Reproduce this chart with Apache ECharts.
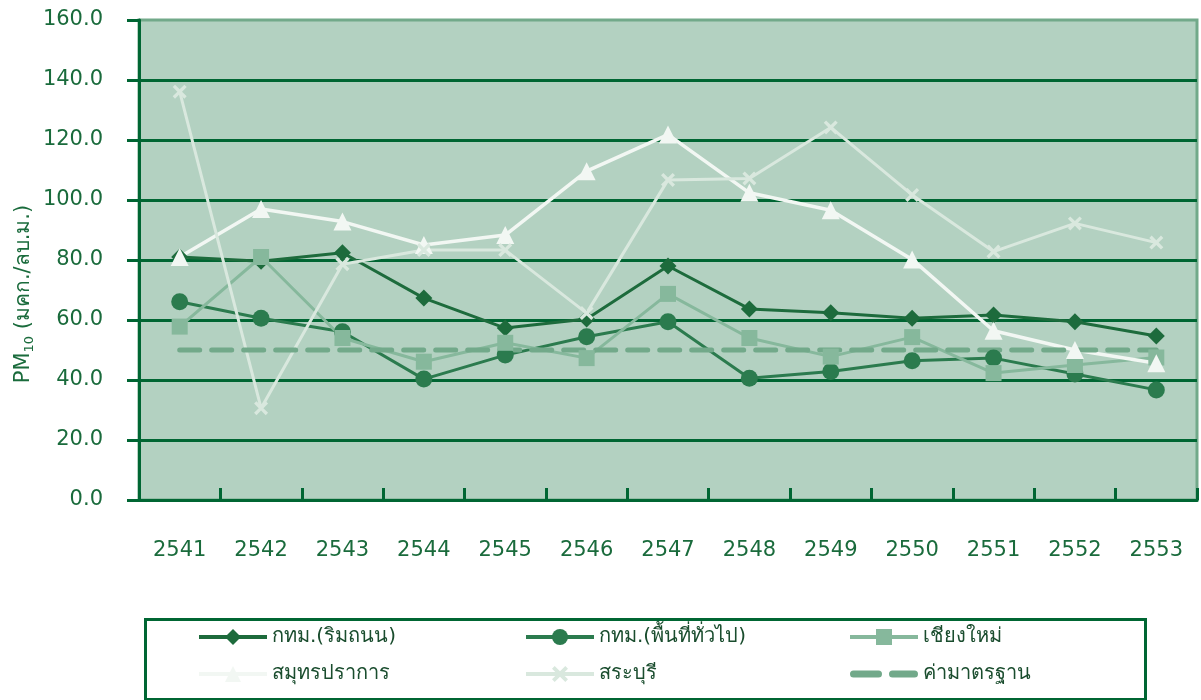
<!DOCTYPE html>
<html>
<head>
<meta charset="utf-8">
<script src="https://cdn.jsdelivr.net/npm/echarts@6/dist/echarts.min.js"></script>
<style>
  html, body { margin: 0; padding: 0; background: #fff; }
  #chart { width: 1201px; height: 700px; }
</style>
</head>
<body>
<div id="chart"></div>
<script>
var years = ['2541', '2542', '2543', '2544', '2545', '2546', '2547', '2548', '2549', '2550', '2551', '2552', '2553'];
var bkkRoad = [81.0, 79.6, 82.4, 67.3, 57.3, 60.3, 78.0, 63.7, 62.4, 60.6, 61.7, 59.4, 54.7];
var bkkGeneral = [66.1, 60.6, 56.1, 40.3, 48.3, 54.4, 59.4, 40.6, 42.8, 46.4, 47.3, 42.0, 36.7];
var chiangMai = [57.8, 81.0, 54.0, 46.1, 52.4, 47.3, 68.7, 54.0, 47.8, 54.3, 42.3, 45.0, 47.5];
var samutPrakan = [81.0, 97.0, 92.8, 85.0, 88.3, 109.6, 121.8, 102.4, 96.6, 80.2, 56.4, 50.0, 45.6];
var saraburi = [136.1, 30.6, 78.6, 83.3, 83.3, 62.3, 106.7, 107.2, 124.2, 101.7, 82.8, 92.2, 85.8];
var standard = [50, 50, 50, 50, 50, 50, 50, 50, 50, 50, 50, 50, 50];

var names = ['กทม.(ริมถนน)', 'กทม.(พื้นที่ทั่วไป)', 'เชียงใหม่', 'สมุทรปราการ', 'สระบุรี', 'ค่ามาตรฐาน'];

var dark = '#006633';
var textColor = '#1a6b3c';
var font = '"DejaVu Sans", sans-serif';
var xPath = 'path://M0,2 L2,0 L6,4 L10,0 L12,2 L8,6 L12,10 L10,12 L6,8 L2,12 L0,10 L4,6 Z';
// two rounded dashes inside a 68x20 box, with tiny corner specks to fix the box size
var dashIcon = 'path://M0,0 L0.05,0 L0,0.05 Z M68,20 L67.95,20 L68,19.95 Z ' +
  'M3.5,6.5 L28.5,6.5 A3.5,3.5 0 0 1 28.5,13.5 L3.5,13.5 A3.5,3.5 0 0 1 3.5,6.5 Z ' +
  'M42.5,6.5 L64.5,6.5 A3.5,3.5 0 0 1 64.5,13.5 L42.5,13.5 A3.5,3.5 0 0 1 42.5,6.5 Z';

function lineSeries(name, data, color, symbol, size, width) {
  return {
    name: name, type: 'line', data: data,
    symbol: symbol, symbolSize: size,
    lineStyle: { color: color, width: width },
    itemStyle: { color: color },
    emphasis: { disabled: true }
  };
}

var legendBase = {
  orient: 'vertical', itemWidth: 68, itemHeight: 20, itemGap: 17, padding: 0,
  lineStyle: { width: 4 },
  textStyle: { color: '#1a4d2e', fontSize: 20, fontFamily: font }
};

var chart = echarts.init(document.getElementById('chart'));
chart.setOption({
  animation: false,
  grid: {
    left: 139, right: 4, top: 20, bottom: 200, outerBoundsMode: 'none',
    show: true, backgroundColor: '#b3d1c1', borderColor: '#72a98a', borderWidth: 3
  },
  legend: [
    Object.assign({ data: [names[0], names[3]], left: 197, top: 627 }, legendBase),
    Object.assign({ data: [names[1], names[4]], left: 524, top: 627 }, legendBase),
    Object.assign({
      data: [names[2], { name: names[5], icon: dashIcon }],
      left: 848, top: 627
    }, legendBase)
  ],
  graphic: [{
    type: 'rect', left: 143, top: 617,
    shape: { width: 1000, height: 80 },
    style: { fill: 'none', stroke: dark, lineWidth: 3 },
    silent: true
  }, {
    type: 'text', x: 24, y: 294, rotation: Math.PI / 2,
    style: {
      text: '{a|PM}{s|10}{a| (มคก./ลบ.ม.)}',
      align: 'center', verticalAlign: 'middle',
      rich: {
        a: { fill: textColor, fontSize: 21, fontFamily: font },
        s: { fill: textColor, fontSize: 13, fontFamily: font, padding: [12, 0, 0, 0] }
      }
    },
    silent: true
  }],
  xAxis: {
    type: 'category', data: years, boundaryGap: true,
    axisLine: { lineStyle: { color: dark, width: 3 } },
    axisTick: { show: true, inside: true, length: 12, lineStyle: { color: dark, width: 3 } },
    axisLabel: { color: textColor, fontSize: 21, margin: 40, fontFamily: font }
  },
  yAxis: {
    type: 'value', min: 0, max: 160, interval: 20,
    axisLine: { show: true, lineStyle: { color: dark, width: 3 } },
    axisTick: { show: true, length: 12, lineStyle: { color: dark, width: 3 } },
    axisLabel: {
      color: textColor, fontSize: 21, margin: 36, fontFamily: font,
      formatter: function(v) { return v.toFixed(1); }
    },
    splitLine: { show: true, showMaxLine: false, lineStyle: { color: dark, width: 3 } }
  },
  series: [
    lineSeries(names[0], bkkRoad, '#1d6b3c', 'diamond', 17, 3),
    lineSeries(names[1], bkkGeneral, '#2b7b4e', 'circle', 17, 3),
    lineSeries(names[2], chiangMai, '#86b89c', 'rect', 16, 3),
    lineSeries(names[3], samutPrakan, '#f2f7f3', 'triangle', 18, 3.5),
    lineSeries(names[4], saraburi, '#d9e8de', xPath, 14, 3),
    {
      name: names[5], type: 'line', data: standard, symbol: 'none',
      lineStyle: { color: '#72a98a', width: 5, type: [20, 12], cap: 'round' },
      itemStyle: { color: '#72a98a' },
      emphasis: { disabled: true }
    }
  ]
});
</script>
</body>
</html>
